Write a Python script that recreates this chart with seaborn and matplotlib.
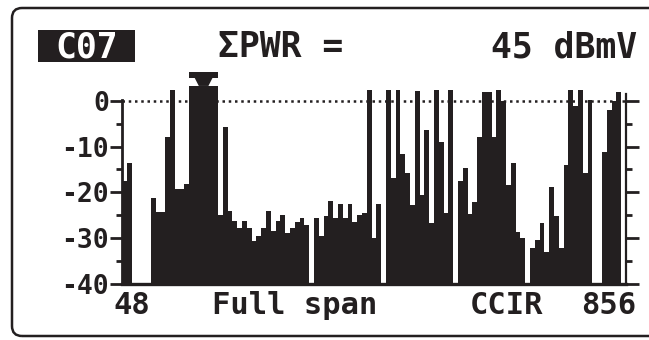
import numpy as np
import pandas as pd
import seaborn as sns
import matplotlib
matplotlib.use("Agg")
import matplotlib.pyplot as plt
from matplotlib.patches import FancyBboxPatch, Rectangle, Polygon
from matplotlib.transforms import IdentityTransform

# Spectrum levels per channel slot (dB relative to reference), 48 .. 856 MHz
levels_db = [
    -17.6, -13.6, -40, -40, -40, -40, -21.2, -24.4, -24.4, -7.8,
    2.5, -19.3, -19.3, -18.3, 3.3, 3.3, 3.3, 3.3, 3.3, 3.3,
    -25.0, -5.8, -24.2, -26.4, -27.8, -26.4, -27.9, -30.7, -29.5, -27.9,
    -24.1, -28.5, -26.4, -25.0, -29.0, -27.9, -26.5, -25.7, -27.1, -40,
    -25.6, -29.5, -25.3, -22.0, -25.7, -22.6, -25.7, -22.6, -26.6, -25.0,
    -24.6, 2.5, -30.0, -22.6, -40, 2.5, -16.8, 2.5, -11.6, -15.8,
    -22.8, 2.1, -20.6, -6.3, -26.8, 2.4, -9.0, -24.6, 2.4, -40,
    -17.6, -14.7, -24.8, -22.2, -7.8, 2.0, 2.0, -7.8, 2.4, 0.0,
    -18.5, -13.6, -28.8, -30.0, -40, -32.3, -30.5, -26.8, -33.0, -18.8,
    -25.3, -32.3, -14.0, 2.5, -1.2, 2.4, -15.8, 0.3, -40, -40,
    -11.1, -1.9, 0.0, 2.0,
]
y_ticks = [0, -10, -20, -30, -40]
y_tick_labels = ["0", "-10", "-20", "-30", "-40"]
freq_labels = ["48", "Full span", "CCIR", "856"]
channel = "C07"
power_label = "\u03a3PWR ="
power_value = "45 dBmV"

FLOOR = -40
INK = "#231f20"
MONO = ["DejaVu Sans Mono"]

sns.set_style("white")
plt.rcParams["font.family"] = MONO

W, H = 649, 340
fig = plt.figure(figsize=(W / 100, H / 100), dpi=100)
fig.patch.set_facecolor("white")

# plot area in pixel terms: x 122..626, 0 dB at y=101, -40 dB at y=283.5
px_per_db = (283.5 - 101) / 40
y_top = 7.0
top_px = 101 - y_top * px_per_db
ax = fig.add_axes([122 / W, (H - 283.5) / H, (626 - 122) / W, (283.5 - top_px) / H])

df = pd.DataFrame({
    "slot": np.arange(len(levels_db)),
    "height": np.array(levels_db) - FLOOR,
})
sns.barplot(data=df, x="slot", y="height", bottom=FLOOR, color=INK,
            saturation=1, width=0.96, linewidth=0, ax=ax, zorder=3)

bar_px = 4.8
ax.set_xlim(-0.5, -0.5 + (626 - 122) / bar_px)
ax.set_ylim(FLOOR, y_top)

# reference level dotted line
ax.axhline(0, color=INK, lw=1.8, linestyle=(0, (1, 1.5)),
           dash_capstyle="butt", zorder=2)

# marker above the tuned channel
cx = 16.5
ax.add_patch(Rectangle((cx - 2.95, 5.1), 5.9, 1.3, color=INK, lw=0, zorder=4))
ax.add_patch(Polygon([(cx - 1.9, 5.15), (cx + 1.9, 5.15), (cx + 1.0, 3.3),
                      (cx - 1.0, 3.3)], closed=True, color=INK, lw=0, zorder=4))

# axes styling
ax.spines["top"].set_visible(False)
for side in ["left", "right", "bottom"]:
    ax.spines[side].set_visible(True)
    ax.spines[side].set_color(INK)
ax.spines["left"].set_linewidth(2.0)
ax.spines["right"].set_linewidth(1.6)
ax.spines["bottom"].set_linewidth(2.4)
ax.spines["left"].set_bounds(FLOOR, 0.3)
ax.spines["right"].set_bounds(FLOOR, 1.5)

ax.set_xticks([])
ax.set_xlabel("")
ax.set_ylabel("")
ax.set_yticks(y_ticks)
ax.set_yticklabels(y_tick_labels)
ax.set_yticks([-5, -15, -25, -35], minor=True)
ax.tick_params(axis="y", which="major", direction="out", length=9, width=2.0,
               color=INK, pad=0.5, labelsize=19, labelcolor=INK,
               left=True, right=True, labelleft=True, labelright=False)
ax.tick_params(axis="y", which="minor", direction="out", length=4, width=2.0,
               color=INK, left=True, right=True)
for lab in ax.get_yticklabels():
    lab.set_fontweight("bold")
ax.grid(False)


def px(x, y):
    return x / W, 1 - y / H


# frequency labels under the trace
fs_bottom = 22
fig.text(*px(113, 305), freq_labels[0], ha="left", va="center",
         fontsize=fs_bottom, color=INK, fontweight="bold")
fig.text(*px(212, 305), freq_labels[1], ha="left", va="center",
         fontsize=fs_bottom, color=INK, fontweight="bold")
fig.text(*px(470, 305), freq_labels[2], ha="left", va="center",
         fontsize=fs_bottom, color=INK, fontweight="bold")
fig.text(*px(636, 305), freq_labels[3], ha="right", va="center",
         fontsize=fs_bottom, color=INK, fontweight="bold")

# header line
fs_head = 25
fig.add_artist(Rectangle(px(38, 62), 97 / W, 32 / H, transform=fig.transFigure,
                         color=INK, lw=0))
fig.text(*px(86.5, 47), channel, ha="center", va="center", fontsize=fs_head,
         color="white", fontweight="bold")
fig.text(*px(218, 47), power_label, ha="left", va="center", fontsize=fs_head,
         color=INK, fontweight="bold")
fig.text(*px(637, 47), power_value, ha="right", va="center", fontsize=fs_head,
         color=INK, fontweight="bold")

# screen bezel
fig.add_artist(FancyBboxPatch((12, H - 336), 700, 328,
                              boxstyle="round,pad=0,rounding_size=10",
                              transform=IdentityTransform(), fill=False,
                              edgecolor=INK, linewidth=1.8, clip_on=False))

fig.savefig("out.png", dpi=100, facecolor="white")
